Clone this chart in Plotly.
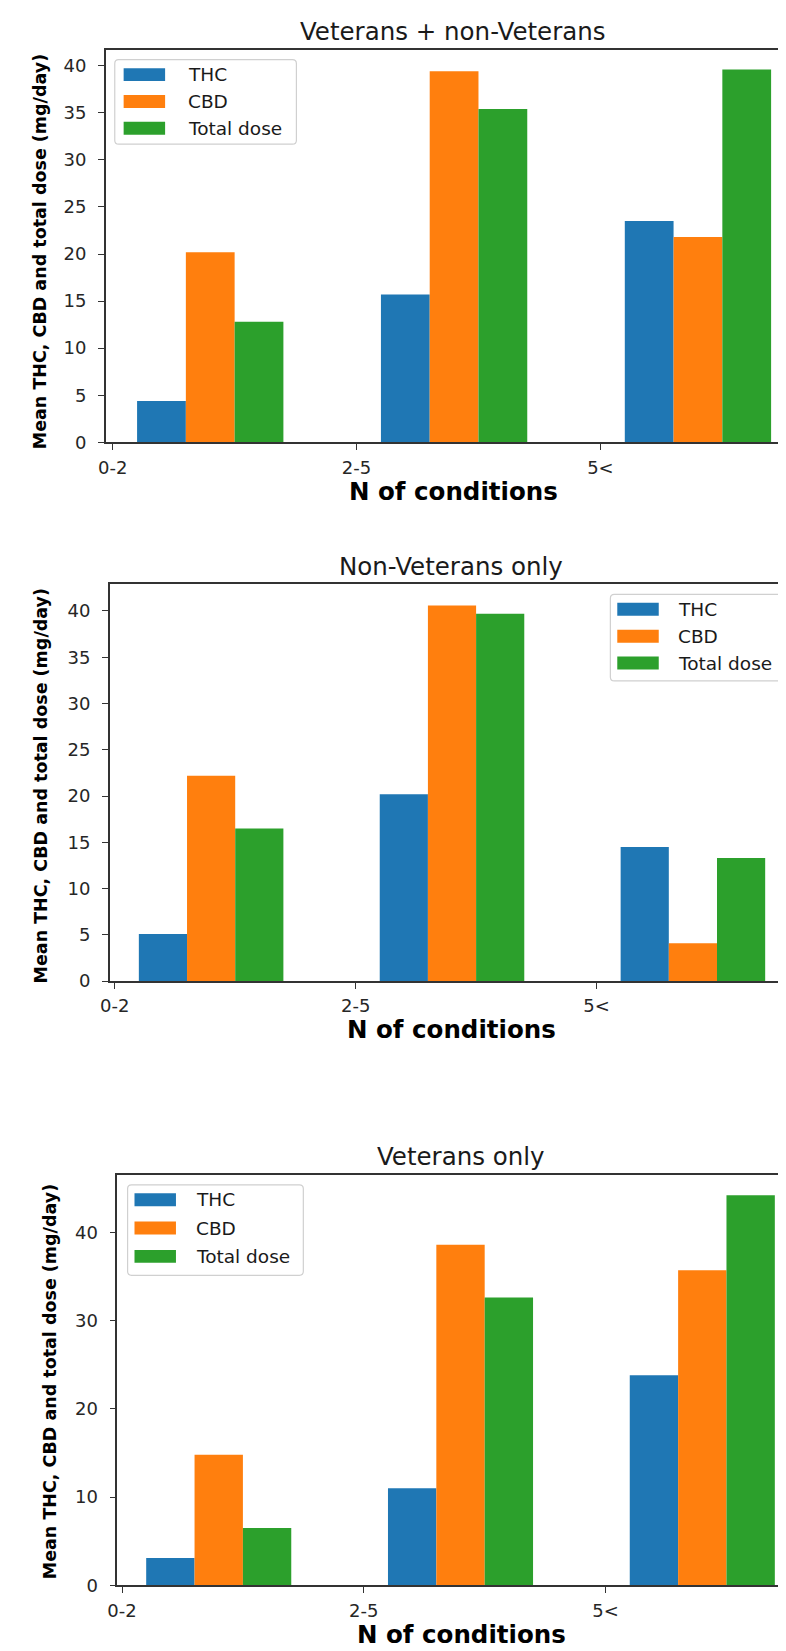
import plotly.graph_objects as go

# ---------------- data ----------------
categories = ["0-2", "2-5", "5<"]
series_names = ["THC", "CBD", "Total dose"]
series_colors = ["#1f77b4", "#ff7f0e", "#2ca02c"]

thc_all = [4.4, 15.7, 23.5]
cbd_all = [20.2, 39.4, 21.8]
total_all = [12.8, 35.4, 39.6]

thc_nonvet = [5.1, 20.2, 14.5]
cbd_nonvet = [22.2, 40.6, 4.1]
total_nonvet = [16.5, 39.7, 13.3]

thc_vet = [3.1, 11.0, 23.8]
cbd_vet = [14.8, 38.6, 35.7]
total_vet = [6.5, 32.6, 44.2]

panel_titles = ["Veterans + non-Veterans", "Non-Veterans only", "Veterans only"]
x_title = "N of conditions"
y_title = "Mean THC, CBD and total dose (mg/day)"

# ---------------- layout (pixels) ----------------
W, H = 786, 1651
FONT = "DejaVu Sans"
TXT = "#1a1a1a"


def fx(px):
    return px / W


def fy(py):
    return 1 - py / H


# legend tuple: (left, top, width, height, row gap, swatch offset, text offset)
panels = [
    dict(data=[thc_all, cbd_all, total_all], left=89, top=42, bottom=437,
         xmin=-0.028, unit=247.0, ymax=41.69, dtick=5,
         leg=(98, 52, 184, 85, 27.0, 9, 72), ytx=22, yty=245, tcx=441),
    dict(data=[thc_nonvet, cbd_nonvet, total_nonvet], left=93, top=580, bottom=979,
         xmin=-0.0205, unit=244.0, ymax=42.86, dtick=5,
         leg=(600, 590, 178, 87, 27.0, 7, 66), ytx=23.5, yty=783, tcx=439),
    dict(data=[thc_vet, cbd_vet, total_vet], left=100.7, top=1174, bottom=1587,
         xmin=-0.019, unit=244.9, ymax=46.5, dtick=10,
         leg=(111, 1184, 178, 91, 28.5, 7, 67), ytx=32, yty=1382, tcx=449),
]

bar_width = 0.2
fig = go.Figure()
shapes = []
annotations = []

for p_i, p in enumerate(panels):
    n = "" if p_i == 0 else str(p_i + 1)
    xa, ya = "x" + n, "y" + n
    for s_i, (name, vals) in enumerate(zip(series_names, p["data"])):
        xs = [c_i + bar_width * (s_i + 1) for c_i in range(len(categories))]
        fig.add_trace(go.Bar(
            x=xs, y=vals, width=bar_width, name=name,
            marker=dict(color=series_colors[s_i], line=dict(width=0)),
            xaxis=xa, yaxis=ya, showlegend=False,
        ))
    xmax = p["xmin"] + (W - p["left"]) / p["unit"]
    axis_common = dict(
        showline=True, linecolor="#333333", linewidth=1.6,
        ticks="outside", ticklen=6, tickwidth=1.4, tickcolor="#333333",
        showgrid=False, zeroline=False,
        tickfont=dict(family=FONT, size=18, color="#262626"),
    )
    fig.layout["xaxis" + n] = dict(
        domain=[fx(p["left"]), 1.0], range=[p["xmin"], xmax],
        anchor=ya, mirror=True,
        tickmode="array", tickvals=list(range(len(categories))), ticktext=categories,
        ticklabelstandoff=2, fixedrange=True, **axis_common)
    fig.layout["yaxis" + n] = dict(
        domain=[fy(p["bottom"]), fy(p["top"])], range=[0, p["ymax"]],
        anchor=xa, mirror=False, dtick=p["dtick"], tick0=0,
        ticklabelstandoff=8, fixedrange=True, **axis_common)

    # panel title
    annotations.append(dict(
        text=panel_titles[p_i], x=fx(p["tcx"]), y=fy(p["top"] - 18),
        xref="paper", yref="paper", xanchor="center", yanchor="middle",
        showarrow=False, font=dict(family=FONT, size=24.5, color=TXT)))
    # x-axis title
    annotations.append(dict(
        text="<b>" + x_title + "</b>", x=fx(p["tcx"]), y=fy(p["bottom"] + 49),
        xref="paper", yref="paper", xanchor="center", yanchor="middle",
        showarrow=False, font=dict(family=FONT, size=24.5, color="#000000")))
    # y-axis title
    annotations.append(dict(
        text="<b>" + y_title + "</b>", x=fx(p["ytx"]), y=fy(p["yty"]),
        xref="paper", yref="paper", xanchor="center", yanchor="middle",
        textangle=-90, showarrow=False,
        font=dict(family=FONT, size=17.5, color="#000000")))

    # legend: rounded box, colour swatches and labels
    L, T, LW, LH, gap, sw_off, tx_off = p["leg"]
    r = 4
    x0, x1 = L, L + LW
    y0, y1 = T, T + LH
    path = (
        f"M {fx(x0 + r)},{fy(y0)} L {fx(x1 - r)},{fy(y0)} "
        f"Q {fx(x1)},{fy(y0)} {fx(x1)},{fy(y0 + r)} "
        f"L {fx(x1)},{fy(y1 - r)} Q {fx(x1)},{fy(y1)} {fx(x1 - r)},{fy(y1)} "
        f"L {fx(x0 + r)},{fy(y1)} Q {fx(x0)},{fy(y1)} {fx(x0)},{fy(y1 - r)} "
        f"L {fx(x0)},{fy(y0 + r)} Q {fx(x0)},{fy(y0)} {fx(x0 + r)},{fy(y0)} Z"
    )
    shapes.append(dict(type="path", path=path, xref="paper", yref="paper",
                       line=dict(color="#d0d0d0", width=1.2),
                       fillcolor="rgba(255,255,255,0.85)", layer="above"))
    for s_i, name in enumerate(series_names):
        cy = T + 15 + gap * s_i
        shapes.append(dict(type="rect", xref="paper", yref="paper",
                           x0=fx(L + sw_off), x1=fx(L + sw_off + 42),
                           y0=fy(cy - 6.5), y1=fy(cy + 6.5),
                           fillcolor=series_colors[s_i], line=dict(width=0),
                           layer="above"))
        annotations.append(dict(
            text=name, x=fx(L + tx_off), y=fy(cy), xref="paper", yref="paper",
            xanchor="left", yanchor="middle", showarrow=False,
            font=dict(family=FONT, size=18.5, color=TXT)))

fig.update_layout(
    width=W, height=H,
    margin=dict(l=0, r=0, t=0, b=0, pad=0),
    paper_bgcolor="white", plot_bgcolor="white",
    barmode="overlay", showlegend=False,
    shapes=shapes, annotations=annotations,
    font=dict(family=FONT, color=TXT),
)

fig.write_html("out.html", config={"displayModeBar": False})
